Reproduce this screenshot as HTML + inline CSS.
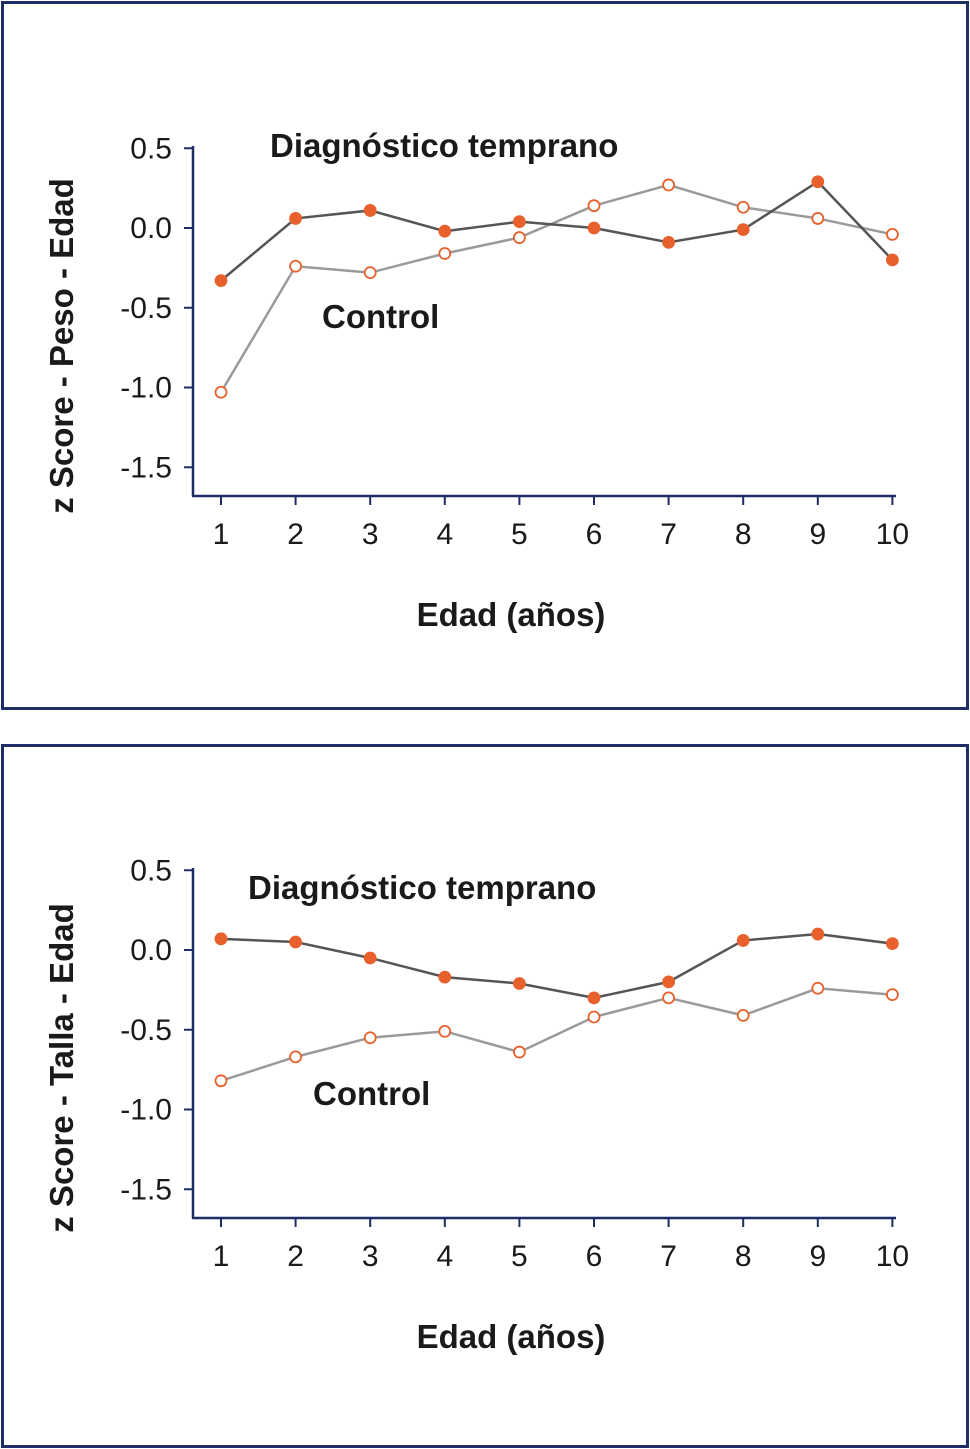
<!DOCTYPE html>
<html><head><meta charset="utf-8">
<style>
html,body{margin:0;padding:0;background:#fff;}
svg{display:block;}
text{font-family:"Liberation Sans Narrow","Liberation Sans",sans-serif;fill:#1a1a1a;}
</style></head>
<body>
<svg id="chart" width="970" height="1449" viewBox="0 0 970 1449" xmlns="http://www.w3.org/2000/svg">
<rect x="2.5" y="2.5" width="965" height="706" fill="none" stroke="#1e2d63" stroke-width="3"/>
<rect x="2.5" y="745.5" width="965" height="701" fill="none" stroke="#1e2d63" stroke-width="3"/>
</svg>
<script>
const ages = [1,2,3,4,5,6,7,8,9,10];
const yTicks = [0.5,0.0,-0.5,-1.0,-1.5];
const yTickLabels = ["0.5","0.0","-0.5","-1.0","-1.5"];
const weightEarly = [-0.33,0.06,0.11,-0.02,0.04,0.0,-0.09,-0.01,0.29,-0.2];
const weightControl = [-1.03,-0.24,-0.28,-0.16,-0.06,0.14,0.27,0.13,0.06,-0.04];
const heightEarly = [0.07,0.05,-0.05,-0.17,-0.21,-0.3,-0.2,0.06,0.1,0.04];
const heightControl = [-0.82,-0.67,-0.55,-0.51,-0.64,-0.42,-0.3,-0.41,-0.24,-0.28];

const svg = document.getElementById('chart');
const NS = 'http://www.w3.org/2000/svg';
function mk(tag, attrs, txt){
  const e = document.createElementNS(NS, tag);
  for (const k in attrs) e.setAttribute(k, attrs[k]);
  if (txt !== undefined) e.textContent = txt;
  svg.appendChild(e);
  return e;
}
function panel(p){
  const x = a => 221 + (a-1)*74.6;
  const y = v => p.y0 - v*159.5;
  let e;
  e = mk('line',{x1:193,y1:p.y0-82,x2:193,y2:p.axisY,stroke:'#1e2d63','stroke-width':2.5});
  
  
  e = mk('line',{x1:192,y1:p.axisY,x2:896,y2:p.axisY,stroke:'#1e2d63','stroke-width':2.5});
  
  
  yTicks.forEach((t,i)=>{
    e = mk('line',{x1:184,y1:y(t),x2:193,y2:y(t),stroke:'#1e2d63','stroke-width':2});
    
    
    e = mk('text',{x:172,y:y(t)+10,'text-anchor':'end','font-size':30}, yTickLabels[i]);
    
    
  });
  ages.forEach(a=>{
    e = mk('line',{x1:x(a),y1:p.axisY,x2:x(a),y2:p.axisY+9,stroke:'#1e2d63','stroke-width':2});
    
    
    e = mk('text',{x:x(a),y:p.axisY+48,'text-anchor':'middle','font-size':30}, String(a));
    
    
  });
  const series = [
    {vals:p.control, line:'#9a9a9a', fill:'#fff', name:'control'},
    {vals:p.early, line:'#555', fill:'#e8602c', name:'early-diagnosis'}
  ];
  series.forEach(s=>{
    const pts = s.vals.map((v,i)=>x(ages[i])+','+y(v)).join(' ');
    e = mk('polyline',{points:pts,fill:'none',stroke:s.line,'stroke-width':2.5});
    
    
  });
  series.forEach(s=>{
    s.vals.forEach((v,i)=>{
      e = mk('circle',{cx:x(ages[i]),cy:y(v),r:5.5,fill:s.fill,stroke:'#e8602c','stroke-width':1.8});
      
      
    });
  });
  e = mk('text',{x:p.dtX,y:p.dtY,'font-size':33,'font-weight':'bold'}, 'Diagnóstico temprano');
  
  
  e = mk('text',{x:p.cX,y:p.cY,'font-size':33,'font-weight':'bold'}, 'Control');
  
  
  e = mk('text',{x:511,y:p.axisY+130,'text-anchor':'middle','font-size':33,'font-weight':'bold'}, 'Edad (años)');
  
  
  e = mk('text',{x:0,y:0,'text-anchor':'middle','font-size':33,'font-weight':'bold',transform:'translate(73,'+p.ytY+') rotate(-90)'}, p.ytitle);
  
  
}
panel({id:'weight', y0:228, axisY:496, early:weightEarly, control:weightControl, dtX:270, dtY:157, cX:322, cY:328, ytitle:'z Score - Peso - Edad', ytY:346});
panel({id:'height', y0:950, axisY:1218, early:heightEarly, control:heightControl, dtX:248, dtY:899, cX:313, cY:1105, ytitle:'z Score - Talla - Edad', ytY:1068});
</script>
</body></html>
